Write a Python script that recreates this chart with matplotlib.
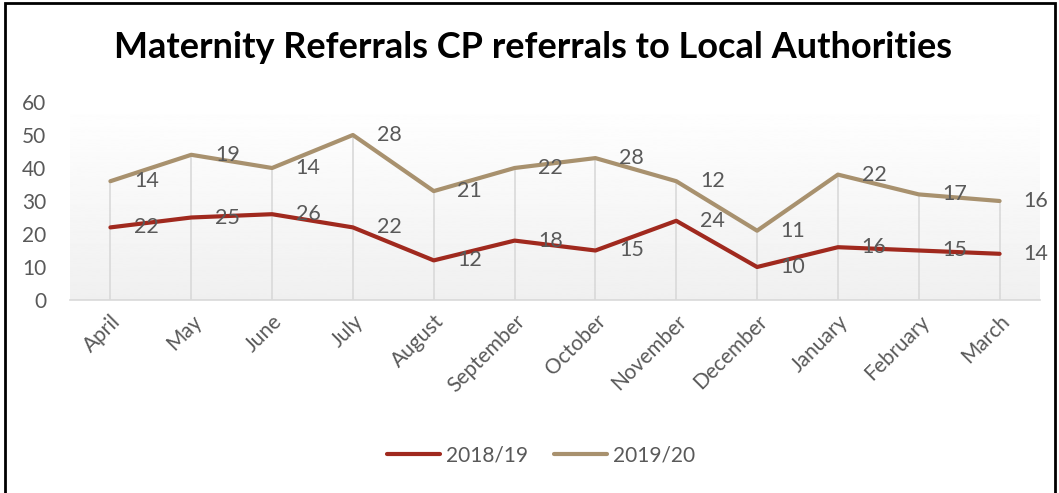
import matplotlib
matplotlib.use('Agg')
import matplotlib.pyplot as plt
import numpy as np
from matplotlib.patches import Rectangle

plt.rcParams.update({
    'font.family': ['Lato', 'DejaVu Sans'],
    'font.size': 15,
})

months = ['April', 'May', 'June', 'July', 'August', 'September', 'October',
          'November', 'December', 'January', 'February', 'March']
y2018 = [22, 25, 26, 22, 12, 18, 15, 24, 10, 16, 15, 14]
y2019 = [14, 19, 14, 28, 21, 22, 28, 12, 11, 22, 17, 16]

red = '#A0291E'
tan = '#A8916E'
grey_txt = '#595959'

x = np.arange(len(months))
stacked = np.array(y2018) + np.array(y2019)

fig = plt.figure(figsize=(10.59, 4.93), dpi=100)
ax = fig.add_axes([70 / 1059, 1 - 300 / 493, 970 / 1059, 198 / 493])

# plot area gradient
grad = np.linspace(1.0, 0.94, 256).reshape(-1, 1)
ax.imshow(grad, cmap='gray', vmin=0, vmax=1, aspect='auto',
          extent=[-0.5, len(months) - 0.5, 0, 60], zorder=0)

# drop lines
ax.vlines(x, 0, stacked, color='#D9D9D9', lw=1.2, zorder=1)

ax.plot(x, y2018, color=red, lw=3, solid_capstyle='round', label='2018/19', zorder=3)
ax.plot(x, stacked, color=tan, lw=3, solid_capstyle='round', label='2019/20', zorder=3)

for xi, v, top in zip(x, y2018, y2018):
    ax.annotate(str(v), (xi, top), xytext=(17, 0), textcoords='offset points',
                ha='left', va='center', color=grey_txt, fontsize=15.5, zorder=4)
for xi, v, top in zip(x, y2019, stacked):
    ax.annotate(str(v), (xi, top), xytext=(17, 0), textcoords='offset points',
                ha='left', va='center', color=grey_txt, fontsize=15.5, zorder=4)

ax.set_xlim(-0.5, len(months) - 0.5)
ax.set_ylim(0, 60)
ax.set_yticks(range(0, 61, 10))
ax.set_xticks(x)
ax.set_xticklabels(months, rotation=45, ha='right', rotation_mode='anchor')
ax.tick_params(axis='both', length=0, colors=grey_txt, labelsize=15)
ax.tick_params(axis='x', pad=8)
ax.tick_params(axis='y', pad=17)
for s in ['top', 'right', 'left']:
    ax.spines[s].set_visible(False)
ax.spines['bottom'].set_color('#D9D9D9')
ax.spines['bottom'].set_linewidth(1.2)

fig.text(533 / 1059, 1 - 47 / 493, 'Maternity Referrals CP referrals to Local Authorities',
         ha='center', va='center', fontsize=26, fontweight='bold', color='black')

leg = fig.legend(loc='center', bbox_to_anchor=(541 / 1059, 1 - 455 / 493), ncol=2,
                 frameon=False, fontsize=15, handlelength=2.55, columnspacing=1.25,
                 handletextpad=0.3)
for t in leg.get_texts():
    t.set_color(grey_txt)

fig.patches.append(Rectangle((5 / 1059, -0.01), 1050 / 1059, 1 - 3 / 493 + 0.01,
                             transform=fig.transFigure, fill=False,
                             edgecolor='black', lw=2))

fig.savefig('out.png', dpi=100)
